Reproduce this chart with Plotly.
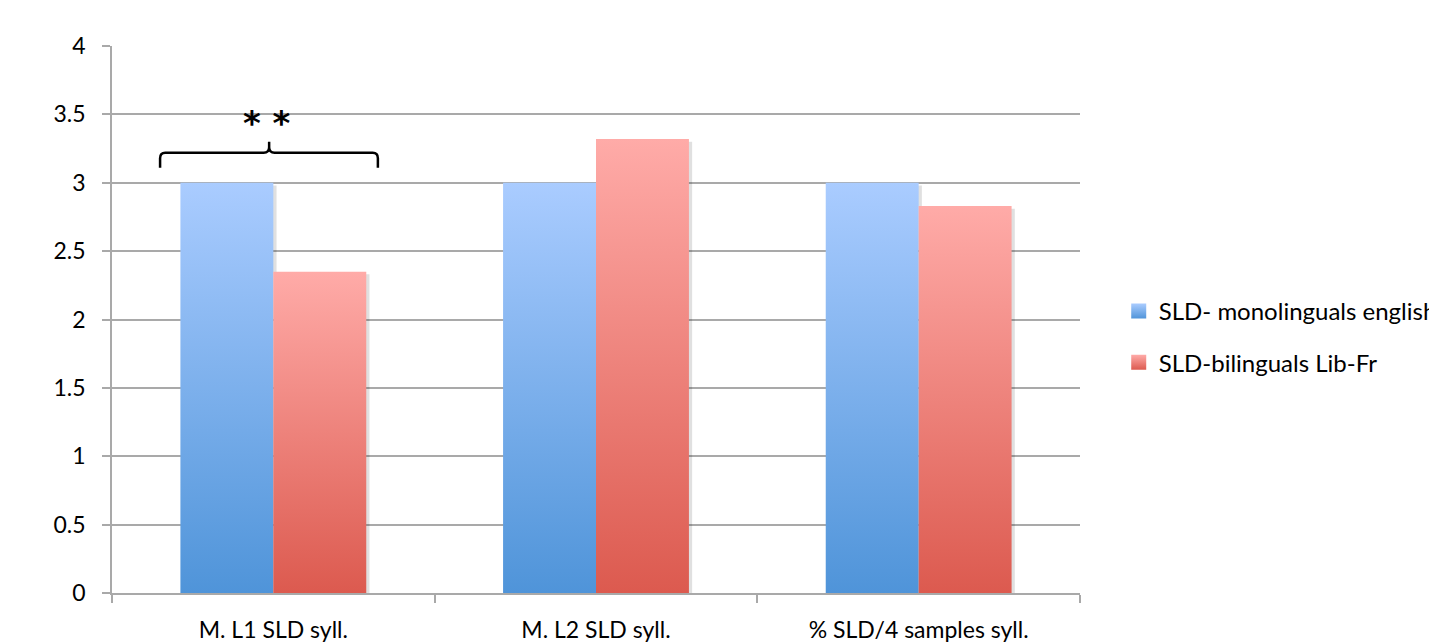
import plotly.graph_objects as go

# Chart data
categories = ["M. L1 SLD syll.", "M. L2 SLD syll.", "% SLD/4 samples syll."]
series_names = ["SLD- monolinguals english", "SLD-bilinguals Lib-Fr"]
monolingual_values = [3.0, 3.0, 3.0]
bilingual_values = [2.35, 3.32, 2.83]
y_ticks = [0, 0.5, 1, 1.5, 2, 2.5, 3, 3.5, 4]

# Styling
FONT = "Lato, 'Open Sans', sans-serif"
GRID = "#a9a9a9"
BLUE = ("#4f94d9", "#aaccff")   # bottom, top
RED = ("#dc5a4f", "#ffaba8")
BAR_W = 0.288

fig = go.Figure()

series = [
    (series_names[0], monolingual_values, BLUE, -BAR_W),
    (series_names[1], bilingual_values, RED, 0.0),
]

for name, values, (c_bot, c_top), offset in series:
    for i, v in enumerate(values):
        x0 = i + offset
        x1 = x0 + BAR_W
        # soft drop shadow
        fig.add_trace(go.Scatter(
            x=[x0 + 0.008, x0 + 0.008, x1 + 0.01, x1 + 0.01, x0 + 0.008],
            y=[-0.02, v - 0.02, v - 0.02, -0.02, -0.02],
            mode="lines", fill="toself", line=dict(width=0),
            fillcolor="rgba(0,0,0,0.12)", hoverinfo="skip", showlegend=False,
        ))
        fig.add_trace(go.Scatter(
            x=[x0, x0, x1, x1, x0],
            y=[0, v, v, 0, 0],
            mode="lines", fill="toself", line=dict(width=0),
            fillgradient=dict(type="vertical", start=0, stop=v,
                              colorscale=[[0, c_bot], [1, c_top]]),
            name=name, showlegend=False, hoverinfo="skip",
        ))

# legend entries
for k, (name, (c_bot, c_top)) in enumerate(zip(series_names, [BLUE, RED])):
    fig.add_trace(go.Scatter(
        x=[None], y=[None], mode="markers", name=name,
        legendgroup=f"g{k}",
        marker=dict(symbol="square", size=15, color=c_top,
                    gradient=dict(type="vertical", color=c_bot)),
    ))

# significance brace over the first category
brace = ("M -0.351,3.11 L -0.351,3.18 Q -0.351,3.22 -0.335,3.22 "
         "L -0.03,3.22 Q -0.013,3.22 -0.013,3.26 L -0.013,3.30 "
         "L -0.013,3.26 Q -0.013,3.22 0.004,3.22 "
         "L 0.308,3.22 Q 0.324,3.22 0.324,3.18 L 0.324,3.11")
fig.add_shape(type="path", path=brace, xref="x", yref="y",
              line=dict(color="black", width=2.5), layer="above")
fig.add_annotation(x=-0.02, y=3.44, xref="x", yref="y", text="<b>* *</b>",
                   showarrow=False, font=dict(family="DejaVu Sans", size=34, color="black"))

fig.update_layout(
    width=1429, height=643,
    margin=dict(l=112, r=349, t=46, b=50, autoexpand=False),
    paper_bgcolor="white", plot_bgcolor="white",
    font=dict(family=FONT, size=23, color="black"),
    showlegend=True,
    legend=dict(x=1.04, xanchor="left", y=0.468, yanchor="middle",
                traceorder="grouped", tracegroupgap=17,
                font=dict(family=FONT, size=24, color="black"),
                bgcolor="rgba(0,0,0,0)"),
    xaxis=dict(
        range=[-0.5, 2.5], tickvals=[0, 1, 2], ticktext=categories,
        ticks="", showgrid=False, zeroline=False, showline=True,
        linecolor=GRID, linewidth=1.5, ticklabelstandoff=16, automargin=False,
        minor=dict(tickvals=[-0.5, 0.5, 1.5, 2.5], ticks="outside",
                   ticklen=8, tickcolor=GRID, tickwidth=1.5, showgrid=False),
    ),
    yaxis=dict(
        range=[0, 4], tickvals=y_ticks, ticks="outside", ticklen=8,
        tickcolor=GRID, tickwidth=1.5, showgrid=True, gridcolor=GRID,
        gridwidth=1.5, zeroline=False, showline=True, linecolor=GRID,
        linewidth=1.5, ticklabelstandoff=12, automargin=False,
    ),
)

fig.write_html("out.html")
